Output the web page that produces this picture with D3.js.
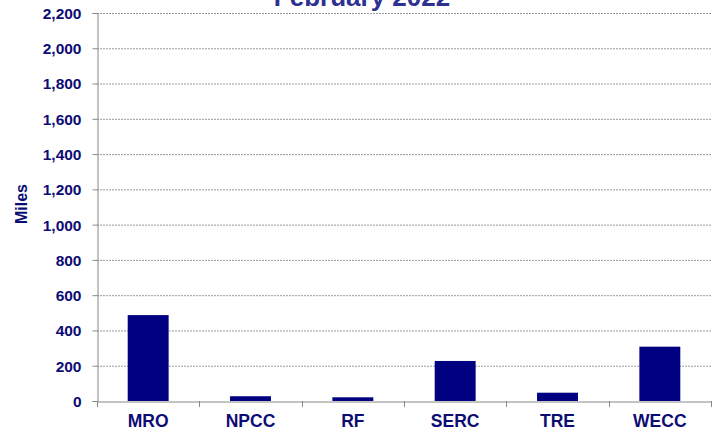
<!DOCTYPE html>
<html><head><meta charset="utf-8">
<script src="https://cdn.jsdelivr.net/npm/d3@7"></script>
<style>
body{margin:0;background:#fff;}
text{font-family:"Liberation Sans",Arial,sans-serif;font-weight:bold;}
</style></head>
<body>
<svg id="c" width="712" height="431"></svg>
<script>
const categories = ["MRO","NPCC","RF","SERC","TRE","WECC"];
const values = [487, 27, 21, 227, 47, 308];
const yTicks = [0,200,400,600,800,1000,1200,1400,1600,1800,2000,2200];
const title = "February 2022";
const yLabel = "Miles";

const svg = d3.select("#c");
const m = {left:97, right:1, top:13, bottom:30};
const W = 712, H = 431;
const x = d3.scaleBand().domain(categories).range([m.left, W - m.right]).paddingInner(0.6).paddingOuter(0.3);
const y = d3.scaleLinear().domain([0,2200]).range([H - m.bottom, m.top]);

const navy = "#0c0c74";
// gridlines
svg.append("g").selectAll("line").data(yTicks.filter(d=>d>0)).join("line")
  .attr("x1", m.left).attr("x2", W - m.right)
  .attr("y1", d=>y(d)+0.5).attr("y2", d=>y(d)+0.5)
  .attr("stroke","#9a9a9a").attr("stroke-width",1).attr("stroke-dasharray","2,1");

// y axis
const ya = svg.append("g").attr("transform",`translate(${m.left+0.5},0)`)
  .call(d3.axisLeft(y).tickValues(yTicks).tickFormat(d3.format(",")).tickSize(5).tickPadding(11));
ya.select(".domain").attr("stroke","#888");
ya.selectAll(".tick line").attr("stroke","#888");
ya.selectAll(".tick text").attr("fill",navy).style("font-size","15.5px").attr("dy","0.35em");

// bars
svg.append("g").selectAll("rect").data(values).join("rect")
  .attr("x",(d,i)=>x(categories[i]))
  .attr("width",x.bandwidth())
  .attr("y",d=>y(d)).attr("height",d=>y(0)-y(d))
  .attr("fill","#000080");

// x axis
const xa = svg.append("g").attr("transform",`translate(0,${y(0)+0.5})`)
  .call(d3.axisBottom(x).tickSize(0).tickPadding(13));
xa.select(".domain").attr("stroke","#888");
xa.selectAll(".tick text").attr("fill",navy).style("font-size","17.5px");
// boundary tick marks
const bounds = d3.range(categories.length+1).map(i=>m.left + i*(W-m.right-m.left)/categories.length);
svg.append("g").selectAll("line").data(bounds).join("line")
  .attr("x1",d=>Math.round(d)+0.5).attr("x2",d=>Math.round(d)+0.5)
  .attr("y1",y(0)).attr("y2",y(0)+6).attr("stroke","#888");

// title
svg.append("text").attr("x",362).attr("y",6).attr("text-anchor","middle")
  .attr("fill","#2e3192").style("font-size","26px").text(title);

// y label
svg.append("text").attr("transform",`translate(27,204) rotate(-90)`)
  .attr("text-anchor","middle").attr("fill",navy).style("font-size","16px").text(yLabel);
</script>
</body></html>
